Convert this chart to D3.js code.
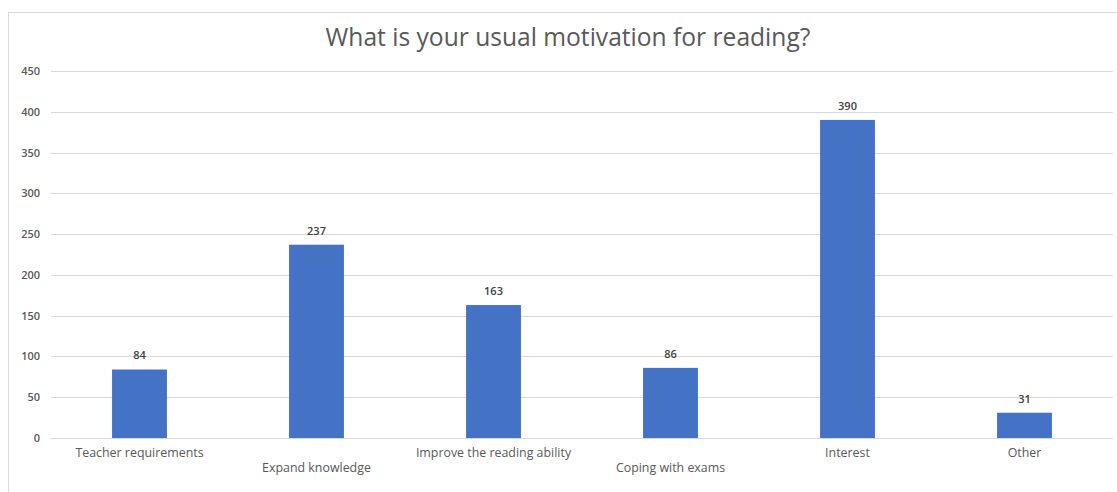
<!DOCTYPE html>
<html>
<head>
<meta charset="utf-8">
<script src="https://cdn.jsdelivr.net/npm/d3@7"></script>
<style>
  html, body { margin: 0; padding: 0; background: #fff; }
  svg { display: block; }
</style>
</head>
<body>
<svg id="chart" width="1117" height="492"></svg>
<script>
// Reading motivation survey: responses per category
const categories = [
  "Teacher requirements",
  "Expand knowledge",
  "Improve the reading ability",
  "Coping with exams",
  "Interest",
  "Other"
];
const counts = [84, 237, 163, 86, 390, 31];
const yTicks = [0, 50, 100, 150, 200, 250, 300, 350, 400, 450];
const titleText = "What is your usual motivation for reading?";

const svg = d3.select("#chart");
const W = 1117, H = 492;
const plot = { left: 51, right: 1113, top: 71, bottom: 438 };
const font = "'Open Sans', 'Noto Sans', sans-serif";
// long labels that would collide drop to a second row
const labelRow = [0, 1, 0, 1, 0, 0];

// chart area frame
svg.append("rect")
  .attr("x", 8.5).attr("y", 12.5)
  .attr("width", W + 10).attr("height", H + 10)
  .attr("fill", "#fff")
  .attr("stroke", "#d9d9d9").attr("stroke-width", 1);

const x = d3.scaleBand()
  .domain(categories)
  .range([plot.left, plot.right])
  .paddingInner(0.69)
  .paddingOuter(0.345);

const y = d3.scaleLinear()
  .domain([0, 450])
  .range([plot.bottom, plot.top]);

// horizontal gridlines
svg.append("g")
  .selectAll("line")
  .data(yTicks)
  .join("line")
  .attr("x1", plot.left).attr("x2", plot.right)
  .attr("y1", d => Math.round(y(d)) + 0.5)
  .attr("y2", d => Math.round(y(d)) + 0.5)
  .attr("stroke", "#d9d9d9").attr("stroke-width", 1);

// y-axis labels
const yAxis = d3.axisLeft(y).tickValues(yTicks).tickSize(0).tickPadding(0);
const gy = svg.append("g")
  .attr("transform", `translate(${40},0)`)
  .call(yAxis);
gy.select(".domain").remove();
gy.selectAll("text")
  .attr("font-family", font)
  .attr("font-size", 11)
  .attr("font-weight", 600)
  .attr("fill", "#595959");

// bars
svg.append("g")
  .selectAll("rect")
  .data(counts)
  .join("rect")
  .attr("x", (d, i) => x(categories[i]))
  .attr("width", x.bandwidth())
  .attr("y", d => y(d))
  .attr("height", d => y(0) - y(d))
  .attr("fill", "#4472c4");

// value labels above bars
svg.append("g")
  .selectAll("text")
  .data(counts)
  .join("text")
  .attr("x", (d, i) => x(categories[i]) + x.bandwidth() / 2)
  .attr("y", d => y(d) - 10)
  .attr("text-anchor", "middle")
  .attr("font-family", font)
  .attr("font-size", 11)
  .attr("font-weight", 600)
  .attr("fill", "#404040")
  .text(d => d);

// category labels, staggered on two rows
svg.append("g")
  .selectAll("text")
  .data(categories)
  .join("text")
  .attr("x", d => x(d) + x.bandwidth() / 2)
  .attr("y", (d, i) => labelRow[i] === 0 ? 457 : 472)
  .attr("text-anchor", "middle")
  .attr("font-family", font)
  .attr("font-size", 12.4)
  .attr("fill", "#595959")
  .text(d => d);

// title
svg.append("text")
  .attr("x", 568)
  .attr("y", 46)
  .attr("text-anchor", "middle")
  .attr("font-family", font)
  .attr("font-size", 24.6)
  .attr("fill", "#595959")
  .text(titleText);
</script>
</body>
</html>
